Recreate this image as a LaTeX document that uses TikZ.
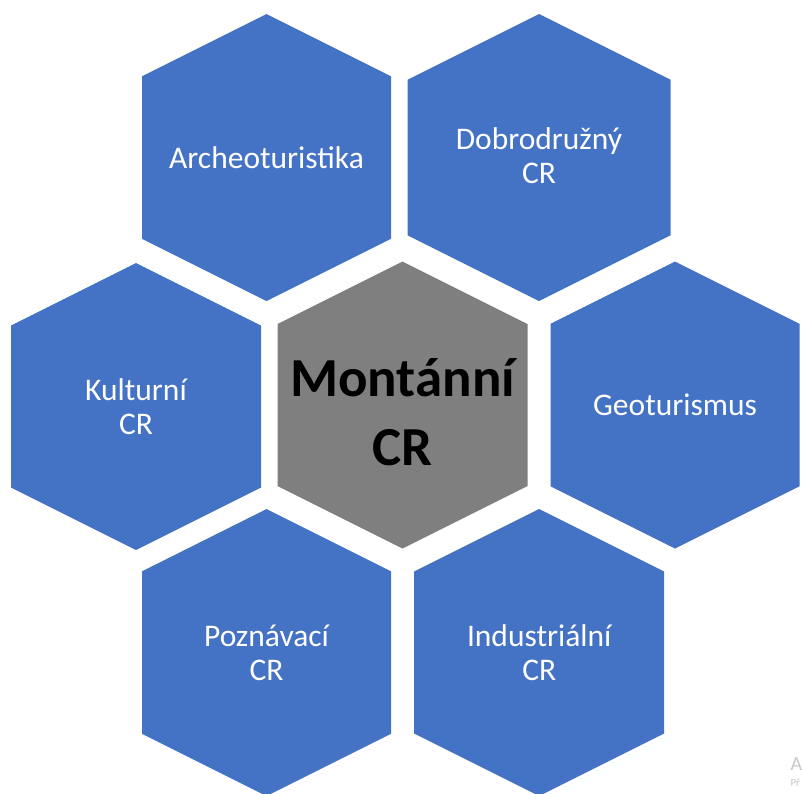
\documentclass[tikz,border=0pt]{standalone}
\usepackage{fontspec}
\setmainfont{Carlito}
\usetikzlibrary{positioning}

\definecolor{cellblue}{HTML}{4472C4}
\definecolor{cellgray}{HTML}{7F7F7F}
\definecolor{marktext}{HTML}{C8C8C8}

% hexagon cell: name, centre, half width, colour
\newcommand{\hexcell}[4]{%
  \coordinate (#1) at (#2);
  \fill[#4] (#1) +(0,-143.5) -- +(#3,{-143.5+#3/2}) -- +(#3,{143.5-#3/2})
    -- +(0,143.5) -- +(-#3,{143.5-#3/2}) -- +(-#3,{-143.5+#3/2}) -- cycle;
}

\begin{document}
\begin{tikzpicture}[%
    x=1pt,
    y=-1pt,
    celltext/.style={%
      align=center,
      text=white,
      font=\fontsize{31.5}{34}\selectfont
    },
    maintext/.style={%
      align=center,
      text=black,
      font=\fontsize{55}{69}\selectfont\bfseries
    }
  ]
    \useasboundingbox (0,0) rectangle (802,793);

    \hexcell{arch}{266.5,157.5}{124.5}{cellblue}
    \hexcell{dobro}{539,157.5}{131.5}{cellblue}
    \hexcell{kult}{136,406.5}{125}{cellblue}
    \hexcell{mont}{402.5,405}{125}{cellgray}
    \hexcell{geo}{675,405}{124.5}{cellblue}
    \hexcell{pozn}{266.5,652.5}{124.5}{cellblue}
    \hexcell{indu}{539.2,652.5}{125}{cellblue}

    \node[celltext] (archtext)  at (arch)  {Archeoturistika};
    \node[celltext] (dobrotext) at ([yshift=2]dobro) {Dobrodružný\\CR};
    \node[celltext] (kulttext)  at (kult)  {Kulturní\\CR};
    \node[maintext] (monttext)  at ([yshift=-7]mont) {Montánní\\CR};
    \node[celltext] (geotext)   at (geo)   {Geoturismus};
    \node[celltext] (prozntext) at (pozn)  {Poznávací\\CR};
    \node[celltext] (indutext)  at (indu)  {Industriální\\CR};

    \node[text=marktext, font=\fontsize{20}{20}\selectfont, anchor=west] (markA) at (787,764) {A};
    \node[text=marktext, font=\fontsize{11}{11}\selectfont] (markP) [below=2pt of markA.south west, anchor=north west] {Př};
 \end{tikzpicture}
\end{document}
